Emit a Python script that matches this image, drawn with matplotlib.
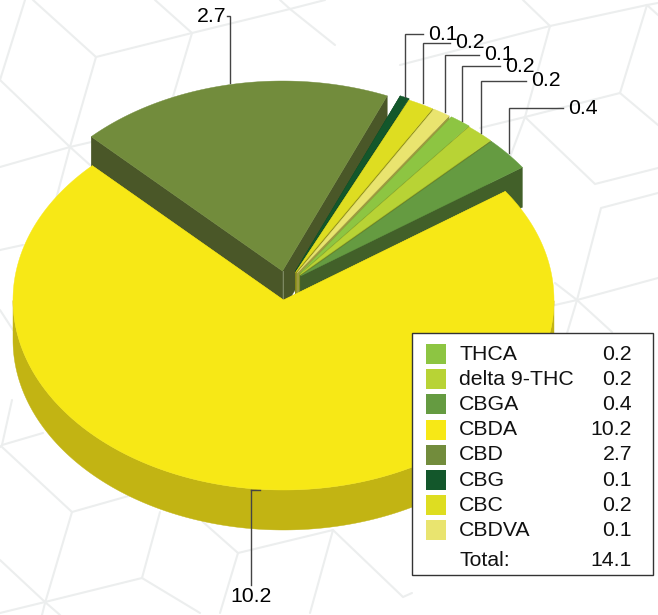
import numpy as np
import matplotlib
matplotlib.use("Agg")
import matplotlib.pyplot as plt
from matplotlib.patches import Polygon, Rectangle

plt.rcParams['font.family'] = ['Liberation Sans', 'DejaVu Sans']

# data (legend order)
categories = ['THCA', 'delta 9-THC', 'CBGA', 'CBDA', 'CBD', 'CBG', 'CBC', 'CBDVA']
values = [0.18, 0.24, 0.40, 10.2, 2.66, 0.08, 0.22, 0.149]
value_labels = ['0.2', '0.2', '0.4', '10.2', '2.7', '0.1', '0.2', '0.1']
total_label = '14.1'

# style
colors = ['#8DC542', '#B8D335', '#659B41', '#F7E816', '#728C3C', '#13572B', '#DEDD21', '#E9E46F']
walls = ['#6F8F2A', '#7F8F22', '#426029', '#C2B413', '#4A5728', '#0D3D1E', '#8F8F18', '#9C9A40']
offsets = {'CBD': (-1, -29), 'CBG': (12, -29), 'CBC': (12, -27.5), 'CBDVA': (13.5, -27),
           'THCA': (16, -26), 'delta 9-THC': (16, -25), 'CBGA': (17, -24), 'CBDA': (0, 0)}
pie_order = ['CBD', 'CBG', 'CBC', 'CBDVA', 'THCA', 'delta 9-THC', 'CBGA', 'CBDA']
start_angle = 135.0
cx, cy, rx, ry, depth = 283.5, 300.0, 270.5, 190.0, 40.0

# leader lines: x on rim, y of rim, y of elbow, x of elbow end
leaders = {'CBG': (405, 97, 34, 423), 'CBC': (423, 103, 43, 450), 'CBDVA': (445, 112, 55, 479),
           'THCA': (461.5, 121, 66, 500), 'delta 9-THC': (481, 133, 81, 526), 'CBGA': (509, 153, 108, 563),
           'CBD': (230, 83, 16, 227), 'CBDA': (251, 490, 490, 260)}

bg_lines = [
    [(25, 0), (0, 80), (70, 147), (90, 165)], [(33, 0), (96, 57), (192, 33), (290, 9), (325, 0)],
    [(96, 57), (70, 147), (55, 203)], [(0, 167), (70, 147), (100, 140)], [(192, 33), (155, 0)],
    [(192, 33), (172, 100)], [(290, 9), (280, 0)], [(290, 9), (335, 45)],
    [(0, 250), (23, 245)], [(0, 310), (13, 330)], [(12, 400), (2, 445), (0, 447)], [(2, 445), (43, 433)],
    [(2, 447), (72, 512), (132, 495)], [(72, 512), (45, 603), (42, 615)], [(0, 560), (45, 602), (60, 615)],
    [(0, 613), (45, 602), (142, 578), (160, 512)], [(142, 578), (200, 613)],
    [(203, 522), (238, 553), (333, 530), (310, 613)], [(238, 553), (220, 613)], [(333, 530), (403, 597), (412, 593)],
    [(400, 65), (550, 26), (647, 5), (658, 3)], [(550, 26), (523, 0)], [(550, 26), (525, 117), (510, 157)],
    [(647, 5), (620, 93), (525, 117), (480, 128)], [(647, 5), (658, 15)], [(525, 117), (595, 184), (658, 168)],
    [(620, 93), (658, 125)], [(658, 193), (601, 208), (577, 300), (565, 340)],
    [(555, 305), (577, 300), (658, 278)], [(555, 283), (577, 300), (612, 332)],
]

fig = plt.figure(figsize=(6.58, 6.15), dpi=100, facecolor='white')
ax = fig.add_axes([0, 0, 1, 1])
ax.set_xlim(0, 658)
ax.set_ylim(615, 0)
ax.axis('off')

for pts in bg_lines:
    xs, ys = zip(*pts)
    ax.plot(xs, ys, color='#ECEEEE', lw=1.5, solid_capstyle='round', zorder=1)

total = sum(values)
z = 2
ang = start_angle
for name in pie_order:
    i = categories.index(name)
    sweep = values[i] / total * 360.0
    th = np.radians(np.linspace(ang, ang - sweep, max(int(sweep * 2), 8)))
    ox, oy = offsets[name]
    px = cx + ox + rx * np.cos(th)
    py = cy + oy - ry * np.sin(th)
    ax0, ay0 = cx + ox, cy + oy
    # radial walls
    for ex, ey in ((px[0], py[0]), (px[-1], py[-1])):
        ax.add_patch(Polygon([(ax0, ay0), (ex, ey), (ex, ey + depth), (ax0, ay0 + depth)],
                             closed=True, fc=walls[i], ec=walls[i], lw=0.3, zorder=z))
    # outer rim, lower half only
    low = np.sin(th) < 0
    if low.any():
        rx_pts = px[low]
        ry_pts = py[low]
        ax.add_patch(Polygon(np.r_[np.c_[rx_pts, ry_pts], np.c_[rx_pts[::-1], ry_pts[::-1] + depth]],
                             closed=True, fc=walls[i], ec=walls[i], lw=0.3, zorder=z))
    # faint highlight on the wedge's inner corner
    if name == 'CBD':
        ax.plot([ax0, ax0], [ay0, ay0 + depth], color='#7E8A62', lw=0.7, zorder=z + 0.2)
    # top face
    ax.add_patch(Polygon(np.r_[[(ax0, ay0)], np.c_[px, py]], closed=True, fc=colors[i], ec=colors[i], lw=0.3, zorder=z + 0.5))
    z += 1
    ang -= sweep

# leaders and value labels
for i, name in enumerate(categories):
    x, y0, y1, x1 = leaders[name]
    ax.plot([x, x, x1], [y0, y1, y1], color='#444444', lw=1.0, solid_joinstyle='miter', zorder=20)
    if name == 'CBD':
        ax.text(x1, y1, value_labels[i], ha='right', va='center', fontsize=15.3, color='black', zorder=21)
    elif name == 'CBDA':
        ax.plot([x, x], [y0, 585], color='#444444', lw=1.0, zorder=20)
        ax.text(x, 597, value_labels[i], ha='center', va='center', fontsize=15.3, color='black', zorder=21)
    else:
        ax.text(x1 + 5, y1, value_labels[i], ha='left', va='center', fontsize=15.3, color='black', zorder=21)

# legend
ax.add_patch(Rectangle((411.5, 332.5), 241.5, 242, fc='white', ec='#333333', lw=1.0, zorder=30))
for i, name in enumerate(categories):
    yc = 354 + i * 25.2
    ax.add_patch(Rectangle((426, yc - 10), 20, 20, fc=colors[i], ec='none', zorder=31))
    ax.text(459, yc, name, ha='left', va='center', fontsize=15.3, color='#111111', zorder=31)
    ax.text(632, yc, value_labels[i], ha='right', va='center', fontsize=15.3, color='#111111', zorder=31)
ax.text(459, 560, 'Total:', ha='left', va='center', fontsize=15.3, color='#111111', zorder=31)
ax.text(632, 560, total_label, ha='right', va='center', fontsize=15.3, color='#111111', zorder=31)

fig.savefig('out.png', dpi=100, facecolor='white')
